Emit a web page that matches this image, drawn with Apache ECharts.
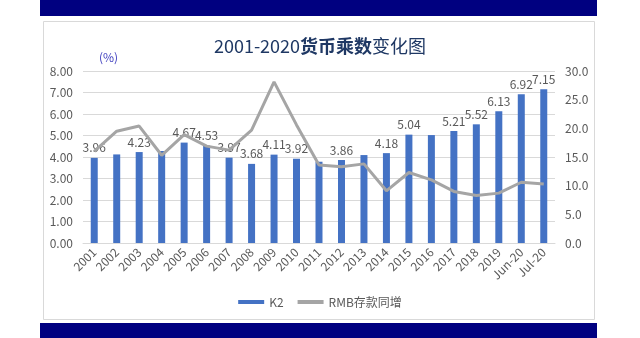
<!DOCTYPE html>
<html><head><meta charset="utf-8">
<script src="https://cdn.jsdelivr.net/npm/echarts@6/dist/echarts.min.js"></script>
<style>html,body{margin:0;padding:0;background:#fff;}#c{width:640px;height:338px;}</style>
</head><body><div id="c"></div>
<script>
var categories = ['2001','2002','2003','2004','2005','2006','2007','2008','2009','2010','2011','2012','2013','2014','2015','2016','2017','2018','2019','Jun-20','Jul-20'];
var k2Values = [3.96,4.12,4.23,4.28,4.67,4.53,3.97,3.68,4.11,3.92,3.78,3.86,4.09,4.18,5.04,5.02,5.21,5.52,6.13,6.92,7.15];
var k2LabelShown = [1,0,1,0,1,1,1,1,1,1,0,1,0,1,1,0,1,1,1,1,1];
var rmbDepositGrowth = [16.0,19.5,20.4,15.3,18.9,16.9,16.2,19.7,28.1,20.6,13.6,13.3,13.8,9.1,12.3,11.0,9.0,8.3,8.7,10.6,10.3];
var leftTicks = {min:0,max:8,interval:1};
var rightTicks = {min:0,max:30,interval:5};

var font = '"Noto Sans CJK SC", "Liberation Sans", sans-serif';
var chart = echarts.init(document.getElementById('c'));
var barData = k2Values.map(function(v,i){
  return {value:v, label:{show:!!k2LabelShown[i]}};
});
chart.setOption({
  animation:false,
  backgroundColor:'#ffffff',
  graphic:[
    {type:'rect',shape:{x:40,y:0,width:557,height:16},style:{fill:'#000080'},z:0},
    {type:'rect',shape:{x:40,y:323,width:557,height:15},style:{fill:'#000080'},z:0},
    {type:'rect',shape:{x:43.5,y:21.5,width:551,height:298},style:{fill:'#ffffff',stroke:'#d9d9d9',lineWidth:1},z:-1},
    {type:'text',left:99,top:51,style:{text:'(%)',fill:'#3f3fbf',font:'12px '+font},z:5}
  ],
  title:{
    text:'{a|2001-2020}{b|货币乘数}{a|变化图}',
    left:'center', top:32,
    textStyle:{rich:{
      a:{fontSize:18,color:'#1f3864',fontFamily:font,fontWeight:'normal'},
      b:{fontSize:18,color:'#1f3864',fontFamily:font,fontWeight:'bold'}
    }}
  },
  legend:{
    bottom:25, left:'center', itemGap:14,
    textStyle:{color:'#595959',fontSize:12,fontFamily:font},
    data:[
      {name:'K2',icon:'rect',itemStyle:{color:'#4472c4'}},
      {name:'RMB存款同增',icon:'rect',itemStyle:{color:'#a5a5a5'}}
    ],
    itemWidth:26,itemHeight:4
  },
  grid:{left:83,right:85,top:71,bottom:95,containLabel:false},
  xAxis:{
    type:'category', data:categories,
    axisTick:{show:false},
    axisLine:{lineStyle:{color:'#d9d9d9'}},
    axisLabel:{rotate:45,color:'#595959',fontSize:12,fontFamily:font,interval:0,margin:7}
  },
  yAxis:[
    {type:'value',min:leftTicks.min,max:leftTicks.max,interval:leftTicks.interval,
     axisLabel:{color:'#595959',fontSize:12,fontFamily:font,formatter:function(v){return v.toFixed(2);},margin:10},
     splitLine:{lineStyle:{color:'#d9d9d9'}},axisLine:{show:false},axisTick:{show:false}},
    {type:'value',min:rightTicks.min,max:rightTicks.max,interval:rightTicks.interval,
     axisLabel:{color:'#595959',fontSize:12,fontFamily:font,formatter:function(v){return v.toFixed(1);},margin:10},
     splitLine:{show:false},axisLine:{show:false},axisTick:{show:false}}
  ],
  series:[
    {name:'K2',type:'bar',data:barData,barWidth:7,itemStyle:{color:'#4472c4'},
     label:{position:'top',color:'#595959',fontSize:12,fontFamily:font,distance:4,formatter:function(p){return p.value.toFixed(2);}},z:2},
    {name:'RMB存款同增',type:'line',yAxisIndex:1,data:rmbDepositGrowth,symbol:'none',
     lineStyle:{color:'#a5a5a5',width:3},itemStyle:{color:'#a5a5a5'},z:3}
  ]
});
</script></body></html>
